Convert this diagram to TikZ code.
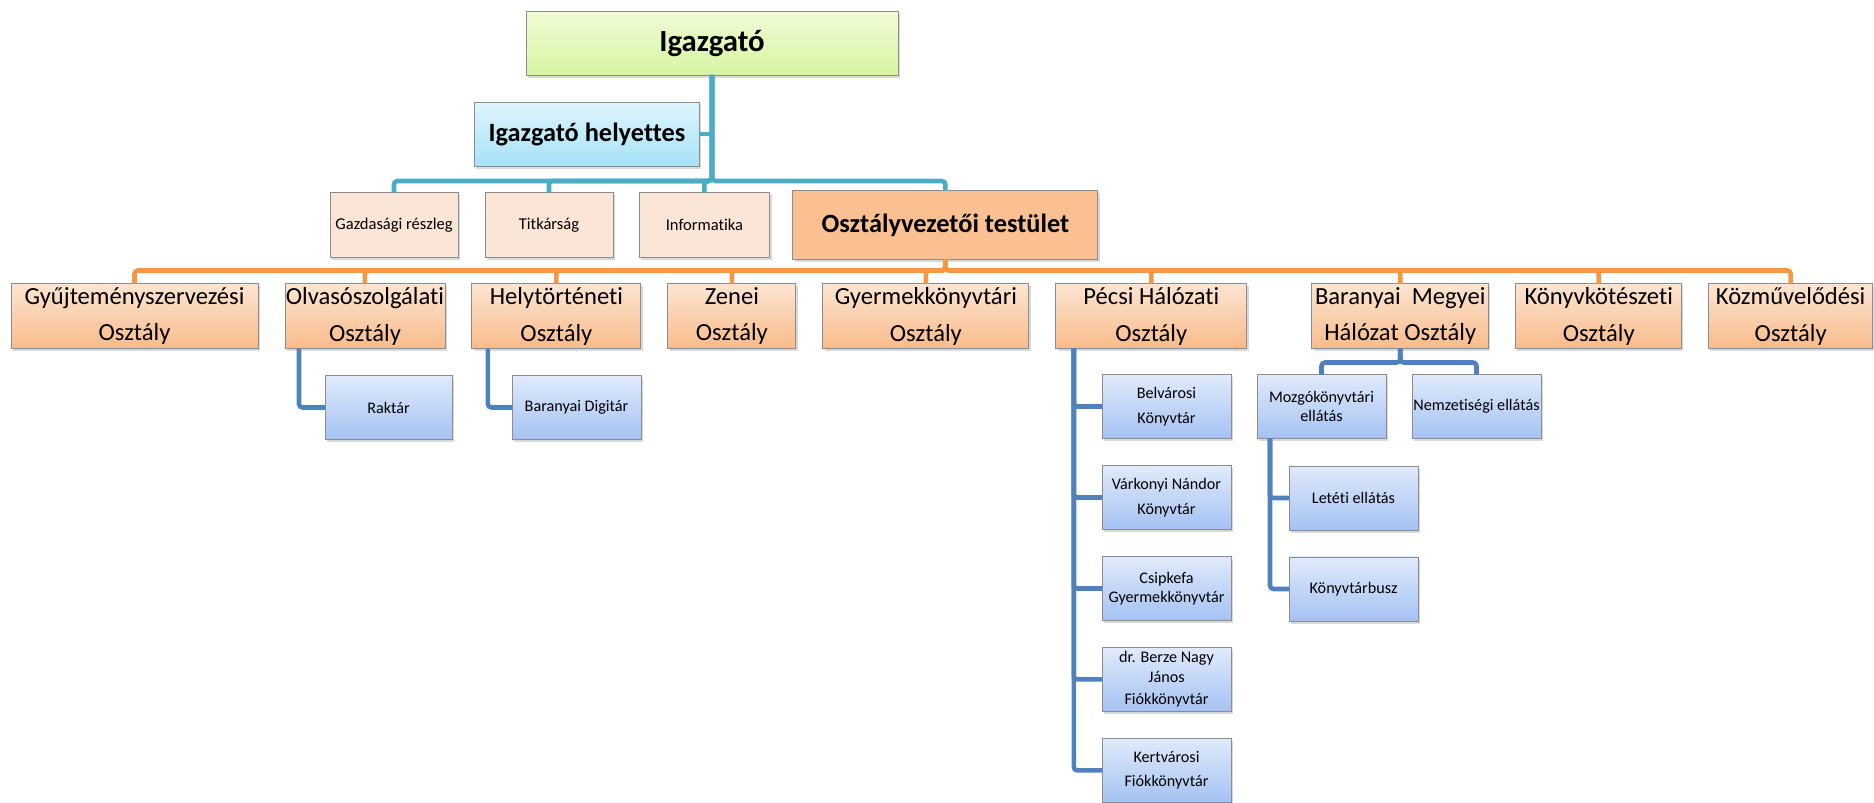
\documentclass[tikz,border=0pt]{standalone}
\usepackage{fontspec}
\setmainfont{Carlito}[Ligatures=NoCommon]
\usepackage{xcolor}
\usepackage{tikz}
\usetikzlibrary{positioning,shadows}
\definecolor{tealln}{RGB}{75,172,198}
\definecolor{orangeln}{RGB}{247,150,70}
\definecolor{blueln}{RGB}{79,129,189}
\definecolor{dirtop}{RGB}{240,252,214}
\definecolor{dirbot}{RGB}{214,245,162}
\definecolor{deptop}{RGB}{222,245,253}
\definecolor{depbot}{RGB}{166,226,248}
\definecolor{stafff}{RGB}{251,229,214}
\definecolor{osztf}{RGB}{250,192,146}
\definecolor{dtop}{RGB}{253,229,210}
\definecolor{dbot}{RGB}{249,187,138}
\definecolor{stop}{RGB}{224,234,251}
\definecolor{sbot}{RGB}{165,194,243}
\tikzset{
  obox/.style={rectangle, draw=black!45, line width=0.5pt,
               outer sep=0pt, inner xsep=0pt, inner ysep=2pt,
               align=center,
               drop shadow={shadow xshift=1pt, shadow yshift=-1.6pt,
                            opacity=0.3}},
  gbox/.style 2 args={obox, top color=#1, bottom color=#2},
  topbox/.style={gbox={dirtop}{dirbot}, minimum width=7.44cm,
                 minimum height=1.28cm,
                 font=\fontsize{17.5}{20}\selectfont\bfseries},
  helpbox/.style={gbox={deptop}{depbot}, minimum width=4.5cm,
                  minimum height=1.28cm,
                  font=\fontsize{15}{18}\selectfont\bfseries},
  stbox/.style={obox, fill=stafff, minimum height=1.3cm,
                font=\fontsize{9.4}{11}\selectfont},
  dbox/.style={gbox={dtop}{dbot}, minimum height=1.3cm,
               font=\fontsize{14}{21}\selectfont},
  sbox/.style={gbox={stop}{sbot}, minimum width=2.58cm,
               minimum height=1.28cm,
               font=\fontsize{9.2}{11}\selectfont},
  tline/.style={draw=tealln, line width=2.6pt, rounded corners=2pt},
  oline/.style={draw=orangeln, line width=2.6pt, rounded corners=2pt},
  bline/.style={draw=blueln, line width=2.6pt, rounded corners=2pt}
}
\begin{document}
\begin{tikzpicture}[x=0.02cm, y=-0.02cm, node distance=0.54cm]
\useasboundingbox (0,0) rectangle (1874,802);
\node[topbox] (igazgato) at (712,43) {Igazgató};
\node[helpbox] (helyettes) at (587,134) {Igazgató helyettes};
\node[stbox, minimum width=2.56cm] (gazd) at (394,225) {Gazdasági részleg};
\node[stbox, minimum width=2.56cm, right=of gazd] (titk) {Titkárság};
\node[stbox, minimum width=2.62cm, right=0.52cm of titk] (inform) {Informatika};
\node[obox, fill=osztf, minimum width=6.1cm, minimum height=1.38cm,
      font=\fontsize{15}{18}\selectfont\bfseries, right=0.46cm of inform]
  (oszt) {Osztályvezetői testület};
\node[dbox, minimum width=4.94cm] (gyujt) at (134.5,316)
  {Gyűjteményszervezési\\Osztály};
\node[dbox, minimum width=3.2cm, right=of gyujt] (olvaso)
  {Olvasószolgálati\\Osztály};
\node[dbox, minimum width=3.38cm, right=of olvaso] (helyt)
  {Helytörténeti\\Osztály};
\node[dbox, minimum width=2.56cm, right=of helyt] (zenei)
  {Zenei\\Osztály};
\node[dbox, minimum width=4.12cm, right=of zenei] (gyerm)
  {Gyermekkönyvtári\\Osztály};
\node[dbox, minimum width=3.82cm, right=of gyerm] (pecsi)
  {Pécsi Hálózati\\Osztály};
\node[dbox, minimum width=3.54cm, right=1.3cm of pecsi] (baranyai)
  {Baranyai\ \ Megyei\\Hálózat Osztály};
\node[dbox, minimum width=3.32cm, right=of baranyai] (kotesz)
  {Könyvkötészeti\\Osztály};
\node[dbox, minimum width=3.28cm, right=of kotesz] (kozmuv)
  {Közművelődési\\Osztály};
\node[sbox, minimum width=2.54cm] (raktar) at (388.5,407.5) {Raktár};
\node[sbox] (digitar) at (576.5,407.5) {Baranyai Digitár};
\node[sbox] (belv) at (1166.5,406.5) {Belvárosi\\[3pt]Könyvtár};
\node[sbox, below=of belv] (vark) {Várkonyi Nándor\\[3pt]Könyvtár};
\node[sbox, below=of vark] (csip) {Csipkefa\\Gyermekkönyvtár};
\node[sbox, below=of csip] (berze) {dr. Berze Nagy\\János\\[2pt]Fiókkönyvtár};
\node[sbox, below=of berze] (kertv) {Kertvárosi\\[3pt]Fiókkönyvtár};
\node[sbox] (mozgo) at (1321.5,406.5) {Mozgókönyvtári\\ellátás};
\node[sbox, right=0.52cm of mozgo] (nemz) {Nemzetiségi ellátás};
\node[sbox] (letet) at (1353.5,498) {Letéti ellátás};
\node[sbox, below=of letet] (busz) {Könyvtárbusz};
\draw[tline] (igazgato.south) -- ++(0,106) -| (gazd.north);
\draw[tline] (igazgato.south) -- ++(0,106) -| (titk.north);
\draw[tline] (igazgato.south) -- ++(0,106) -| (inform.north);
\draw[tline] (igazgato.south) -- ++(0,106) -| (oszt.north);
\draw[tline] (helyettes.east) -- (helyettes.east -| igazgato.south);
\draw[oline] (oszt.south) -- ++(0,11) -| (gyujt.north);
\draw[oline] (oszt.south) -- ++(0,11) -| (olvaso.north);
\draw[oline] (oszt.south) -- ++(0,11) -| (helyt.north);
\draw[oline] (oszt.south) -- ++(0,11) -| (zenei.north);
\draw[oline] (oszt.south) -- ++(0,11) -| (gyerm.north);
\draw[oline] (oszt.south) -- ++(0,11) -| (pecsi.north);
\draw[oline] (oszt.south) -- ++(0,11) -| (baranyai.north);
\draw[oline] (oszt.south) -- ++(0,11) -| (kotesz.north);
\draw[oline] (oszt.south) -- ++(0,11) -| (kozmuv.north);
\draw[bline] (olvaso.south west) ++(14,0) |- (raktar.west);
\draw[bline] (helyt.south west) ++(16,0) |- (digitar.west);
\draw[bline] (pecsi.south west) ++(18,0) |- (belv.west);
\draw[bline] (pecsi.south west) ++(18,0) |- (vark.west);
\draw[bline] (pecsi.south west) ++(18,0) |- (csip.west);
\draw[bline] (pecsi.south west) ++(18,0) |- (berze.west);
\draw[bline] (pecsi.south west) ++(18,0) |- (kertv.west);
\draw[bline] (baranyai.south) -- ++(0,14) -| (mozgo.north);
\draw[bline] (baranyai.south) -- ++(0,14) -| (nemz.north);
\draw[bline] (mozgo.south west) ++(13,0) |- (letet.west);
\draw[bline] (mozgo.south west) ++(13,0) |- (busz.west);
\end{tikzpicture}
\end{document}
